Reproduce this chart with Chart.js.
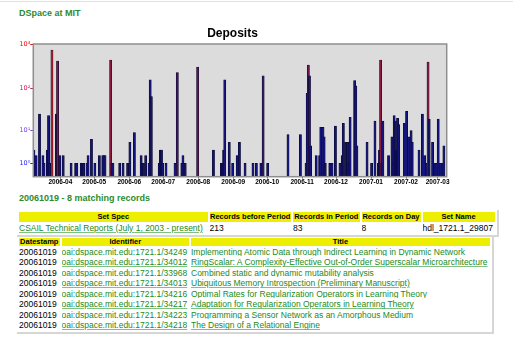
<!DOCTYPE html>
<html>
<head>
<meta charset="utf-8">
<script src="https://cdn.jsdelivr.net/npm/chart.js@4.4.0/dist/chart.umd.min.js"></script>
<style>
body{margin:0;background:#fff;font-family:"Liberation Sans",Arial,sans-serif;width:513px;height:341px;overflow:hidden;position:relative}
#topline{position:absolute;left:0;top:1px;width:513px;height:1px;background:#e2e2e2}
h1,h2{position:absolute;left:19px;margin:0;font-size:9px;line-height:9px;font-weight:bold;color:#2e8b2e}
h1{top:8.5px}
h2{top:194px}
#chartbox{position:absolute;left:0;top:20px;width:465px;height:172px}
table{position:absolute;left:17px;border-collapse:separate;border-spacing:2px;border-right:2px solid #d6d6d6;border-bottom:2px solid #d6d6d6;table-layout:fixed;font-size:8.5px;color:#000}
th{background:#eeee00;font-size:7.5px;font-weight:bold;padding:0;white-space:nowrap;overflow:hidden;text-align:center}
td{padding:0;white-space:nowrap;overflow:hidden;text-align:left}
#sets{top:210.3px;width:481.5px}
#sets th{height:9.5px;line-height:9.5px}
#sets td{height:9px;line-height:9px}
#recs{top:235.7px;width:477px}
#recs th{height:8px;line-height:8px}
#recs td{height:8.5px;line-height:8.5px}
a{color:#228b22;text-decoration-color:#80c080}
</style>
</head>
<body>
<div id="topline"></div>
<h1>DSpace at MIT</h1>
<div id="chartbox"><canvas id="deposits" width="465" height="172"></canvas></div>
<h2>20061019 - 8 matching records</h2>

<table id="sets">
<colgroup><col style="width:188.5px"><col style="width:81.5px"><col style="width:66.5px"><col style="width:59px"><col style="width:72px"></colgroup>
<tr><th>Set Spec</th><th>Records before Period</th><th>Records in Period</th><th>Records on Day</th><th>Set Name</th></tr>
<tr><td><a href="#">CSAIL Technical Reports (July 1, 2003 - present)</a></td><td>213</td><td>83</td><td>8</td><td>hdl_1721.1_29807</td></tr>
</table>

<table id="recs">
<colgroup><col style="width:40.5px"><col style="width:127.5px"><col style="width:299px"></colgroup>
<tr><th>Datestamp</th><th>Identifier</th><th>Title</th></tr>
<tr><td>20061019</td><td><a href="#">oai:dspace.mit.edu:1721.1/34249</a></td><td><a href="#">Implementing Atomic Data through Indirect Learning in Dynamic Network</a></td></tr>
<tr><td>20061019</td><td><a href="#">oai:dspace.mit.edu:1721.1/34012</a></td><td><a href="#">RingScalar: A Complexity-Effective Out-of-Order Superscalar Microarchitecture</a></td></tr>
<tr><td>20061019</td><td><a href="#">oai:dspace.mit.edu:1721.1/33968</a></td><td><a href="#">Combined static and dynamic mutability analysis</a></td></tr>
<tr><td>20061019</td><td><a href="#">oai:dspace.mit.edu:1721.1/34013</a></td><td><a href="#">Ubiquitous Memory Introspection (Preliminary Manuscript)</a></td></tr>
<tr><td>20061019</td><td><a href="#">oai:dspace.mit.edu:1721.1/34216</a></td><td><a href="#">Optimal Rates for Regularization Operators in Learning Theory</a></td></tr>
<tr><td>20061019</td><td><a href="#">oai:dspace.mit.edu:1721.1/34217</a></td><td><a href="#">Adaptation for Regularization Operators in Learning Theory</a></td></tr>
<tr><td>20061019</td><td><a href="#">oai:dspace.mit.edu:1721.1/34223</a></td><td><a href="#">Programming a Sensor Network as an Amorphous Medium</a></td></tr>
<tr><td>20061019</td><td><a href="#">oai:dspace.mit.edu:1721.1/34218</a></td><td><a href="#">The Design of a Relational Engine</a></td></tr>
</table>

<script>
// day 0 of the period shown in the chart
const startDate = Date.UTC(2006, 2, 8);

// days (counted from startDate) that had deposits, and how many
const dayIndex = [0, 2, 5, 8, 9, 12, 13, 14, 16, 20, 21, 23, 26, 33, 37, 38, 42, 43, 44, 47, 48, 51, 54, 58, 61, 62, 63, 68, 69, 70, 76, 79, 83, 85, 89,
    95, 96, 97, 99, 102, 103, 104, 111, 112, 113, 114, 117, 125, 127, 131, 132, 133, 134, 145, 159, 166, 167, 168, 169, 173, 176, 180, 182,
    187, 194, 197, 201, 202, 203, 207, 225, 236, 241, 242, 243, 244, 245, 250, 253, 254, 256, 257, 258, 262, 263, 264, 267, 271, 273, 274, 276,
    278, 279, 280, 284, 285, 286, 295, 299, 302, 305, 306, 307, 308, 309, 314, 317, 318, 319, 320, 321, 322, 323, 328, 330, 332, 334, 335, 341, 344, 346,
    348, 349, 350, 353, 355, 356, 358, 360, 362, 363];
const deposits = [3, 2, 25, 2, 1, 3, 23, 1, 730, 25, 410, 2, 2, 1, 1, 1, 1, 1, 1, 1, 2, 6, 1, 2, 2, 2, 2, 435, 1, 1, 1, 1, 1, 5, 9,
    2, 1, 1, 2, 1, 153, 64, 1, 3, 3, 1, 1, 1, 225, 1, 2, 1, 1, 300, 3, 1, 1, 3, 153, 5, 1, 2, 5,
    1, 1, 1, 1, 1, 190, 1, 8, 8, 1, 76, 335, 190, 4, 2, 2, 12, 12, 7, 1, 1, 1, 1, 13, 1, 2, 15, 5,
    5, 1, 21, 148, 112, 4, 5, 1, 17, 1, 3, 435, 1, 17, 2, 7, 1, 23, 17, 3, 20, 14, 15, 29, 7, 10, 5, 3, 25, 2,
    1, 390, 19, 5, 1, 1, 19, 1, 1, 4];

const monthLabels = ["2006-04", "2006-05", "2006-06", "2006-07", "2006-08", "2006-09", "2006-10", "2006-11", "2006-12", "2007-01", "2007-02", "2007-03"];
const yTickValues = [1, 10, 100, 1000];
const yTickLabels = ["10\u2070", "10\u00b9", "10\u00b2", "10\u00b3"];
const yTickColors = ["#2222ff", "#7a44f0", "#dd1060", "#ff0000"];

const monthOffsets = monthLabels.map(function(m) {
    return (Date.UTC(+m.slice(0, 4), +m.slice(5) - 1, 1) - startDate) / 86400000;
});

// axis is log10(1 + count), so every value gets +1 before the log scale
const points = dayIndex.map(function(d, i) {
    return { x: d + 0.5, y: deposits[i] + 1 };
});

function barColour(v) {
    let t = (Math.log10(v + 1) / 3 - 0.72) / 0.22;
    t = Math.min(1, Math.max(0, t));
    let r = Math.round(20 + t * (185 - 20));
    let g = Math.round(20 + t * (25 - 20));
    let b = Math.round(125 + t * (40 - 125));
    return "rgb(" + r + "," + g + "," + b + ")";
}

const plotFrame = {
    id: "plotFrame",
    beforeDraw(chart) {
        let a = chart.chartArea;
        let c = chart.ctx;
        c.save();
        c.fillStyle = "#dcdcdc";
        c.fillRect(a.left, a.top, a.right - a.left, a.bottom - a.top);
        c.restore();
    },
    afterDatasetsDraw(chart) {
        let a = chart.chartArea;
        let c = chart.ctx;
        c.save();
        c.strokeStyle = "#8e8e8e";
        c.lineWidth = 1.5;
        c.strokeRect(a.left, a.top, a.right - a.left, a.bottom - a.top);
        c.restore();
    }
};

Chart.defaults.font.family = '"Liberation Sans", Arial, sans-serif';

var ctx = document.getElementById("deposits").getContext("2d");

var chart = new Chart(ctx, {
    type: "bar",
    data: {
        datasets: [{
            data: points,
            backgroundColor: function(c) { return barColour(deposits[c.dataIndex]); },
            borderColor: "#0a0a28",
            borderWidth: 0.6,
            borderSkipped: "bottom",
            barThickness: 2.2
        }]
    },
    options: {
        responsive: false,
        animation: false,
        devicePixelRatio: 1,
        layout: { padding: 0 },
        plugins: {
            legend: { display: false },
            tooltip: { enabled: false },
            title: {
                display: true,
                text: "Deposits",
                color: "#000",
                font: { size: 12, weight: "bold" },
                padding: { top: 6.5, bottom: 3.1 }
            }
        },
        scales: {
            x: {
                type: "linear",
                min: 0,
                max: 366,
                offset: false,
                grid: { display: true, offset: false, drawOnChartArea: false, tickLength: 2, tickColor: "#777" },
                border: { display: false },
                ticks: {
                    autoSkip: false,
                    maxRotation: 0,
                    padding: 0,
                    color: "#000",
                    font: { size: 6.5, weight: "bold" },
                    callback: function(v, i) { return monthLabels[i]; }
                },
                afterBuildTicks: function(s) { s.ticks = monthOffsets.map(function(v) { return { value: v }; }); },
                afterFit: function(s) { s.height = 15.3; }
            },
            y: {
                type: "logarithmic",
                min: 1,
                max: 1001,
                grid: {
                    drawOnChartArea: false,
                    tickLength: 3,
                    tickColor: function(c) { return yTickColors[c.index]; }
                },
                border: { display: false },
                ticks: {
                    padding: 0,
                    font: { size: 6.5, family: '"DejaVu Sans", sans-serif' },
                    color: function(c) { return yTickColors[c.index]; },
                    callback: function(v, i) { return yTickLabels[i]; }
                },
                afterBuildTicks: function(s) { s.ticks = yTickValues.map(function(v) { return { value: v + 1 }; }); },
                afterFit: function(s) { s.width = 33.3; }
            },
            right: {
                type: "linear",
                position: "right",
                grid: { display: false },
                border: { display: false },
                ticks: { display: false },
                afterFit: function(s) { s.width = 18.3; }
            }
        }
    },
    plugins: [plotFrame]
});
</script>
</body>
</html>
